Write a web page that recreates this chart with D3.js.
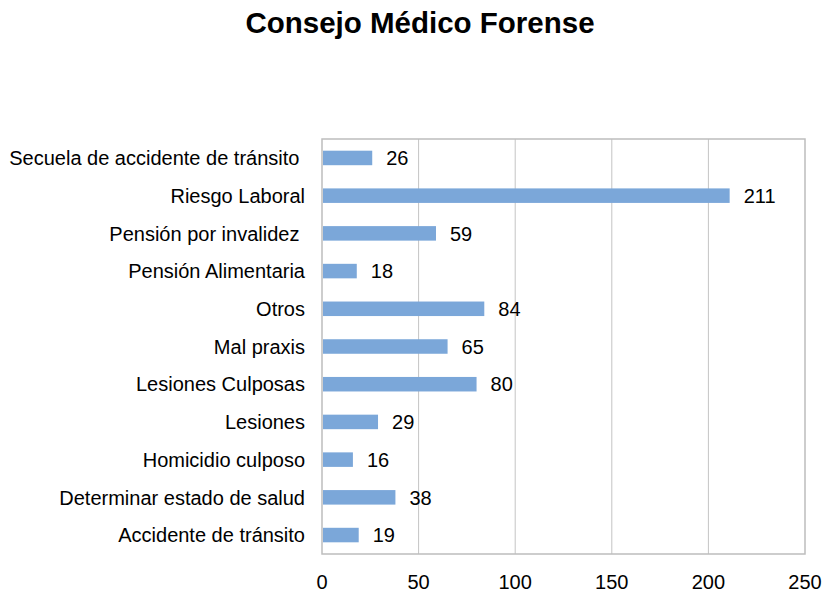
<!DOCTYPE html>
<html>
<head>
<meta charset="utf-8">
<script src="https://cdn.jsdelivr.net/npm/d3@7"></script>
<style>
  body { margin: 0; background: #fff; }
  text { font-family: "Liberation Sans", Arial, sans-serif; fill: #000; }
</style>
</head>
<body>
<div id="chart"></div>
<script>
// Data (top to bottom as shown)
const categories = [
  "Secuela de accidente de tránsito ",
  "Riesgo Laboral",
  "Pensión por invalidez ",
  "Pensión Alimentaria",
  "Otros",
  "Mal praxis",
  "Lesiones Culposas",
  "Lesiones",
  "Homicidio culposo",
  "Determinar estado de salud",
  "Accidente de tránsito"
];
const values = [26, 211, 59, 18, 84, 65, 80, 29, 16, 38, 19];
const xTicks = [0, 50, 100, 150, 200, 250];

const W = 826, H = 592;
const margin = {top: 139, right: 21, bottom: 38, left: 322},
      width  = W - margin.left - margin.right,
      height = H - margin.top  - margin.bottom;

const svg = d3.select("#chart")
  .append("svg")
    .attr("width", W)
    .attr("height", H);

// Title
svg.append("text")
  .attr("x", 420)
  .attr("y", 33)
  .attr("text-anchor", "middle")
  .style("font-size", "29.5px")
  .style("font-weight", "bold")
  .text("Consejo Médico Forense");

const g = svg.append("g")
  .attr("transform", `translate(${margin.left},${margin.top})`);

const x = d3.scaleLinear().domain([0, 250]).range([0, width]);
const y = d3.scaleBand().domain(categories).range([0, height]).paddingInner(0.615).paddingOuter(0.31);

// gridlines
g.selectAll(".grid")
  .data(xTicks.slice(1, -1))
  .enter().append("line")
    .attr("x1", d => x(d)).attr("x2", d => x(d))
    .attr("y1", 0).attr("y2", height)
    .style("stroke", "#c4c4c4")
    .style("stroke-width", 1);

// frame
g.append("rect")
  .attr("width", width).attr("height", height)
  .style("fill", "none")
  .style("stroke", "#bdbdbd")
  .style("stroke-width", 1.5);

// bars
g.selectAll(".bar")
  .data(values)
  .enter().append("rect")
    .attr("x", 1)
    .attr("y", (d, i) => y(categories[i]))
    .attr("width", d => x(d) - 1)
    .attr("height", y.bandwidth())
    .style("fill", "#7ba7d9");

// value labels
g.selectAll(".val")
  .data(values)
  .enter().append("text")
    .attr("x", d => x(d) + 14)
    .attr("y", (d, i) => y(categories[i]) + y.bandwidth() / 2)
    .attr("dy", "0.36em")
    .style("font-size", "20px")
    .text(d => d);

// category labels
g.selectAll(".cat")
  .data(categories)
  .enter().append("text")
    .attr("x", -17)
    .attr("y", d => y(d) + y.bandwidth() / 2)
    .attr("dy", "0.36em")
    .attr("text-anchor", "end")
    .style("font-size", "20px")
    .style("white-space", "pre")
    .attr("xml:space", "preserve")
    .text(d => d);

// x tick labels
g.selectAll(".xt")
  .data(xTicks)
  .enter().append("text")
    .attr("x", d => x(d))
    .attr("y", height + 34.5)
    .attr("text-anchor", "middle")
    .style("font-size", "20px")
    .text(d => d);
</script>
</body>
</html>
